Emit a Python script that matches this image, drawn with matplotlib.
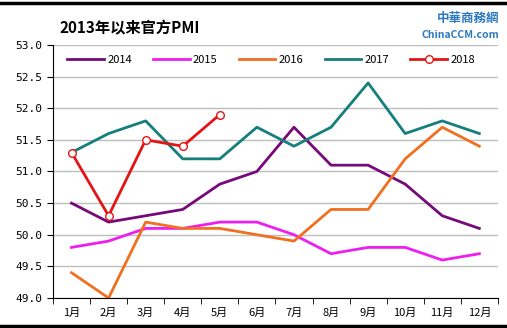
import matplotlib
matplotlib.use("Agg")
import matplotlib.pyplot as plt
from matplotlib.lines import Line2D

plt.rcParams['font.family'] = ['Noto Sans CJK SC', 'DejaVu Sans']

months = ['1月', '2月', '3月', '4月', '5月', '6月', '7月', '8月', '9月', '10月', '11月', '12月']
pmi_2014 = [50.5, 50.2, 50.3, 50.4, 50.8, 51.0, 51.7, 51.1, 51.1, 50.8, 50.3, 50.1]
pmi_2015 = [49.8, 49.9, 50.1, 50.1, 50.2, 50.2, 50.0, 49.7, 49.8, 49.8, 49.6, 49.7]
pmi_2016 = [49.4, 49.0, 50.2, 50.1, 50.1, 50.0, 49.9, 50.4, 50.4, 51.2, 51.7, 51.4]
pmi_2017 = [51.3, 51.6, 51.8, 51.2, 51.2, 51.7, 51.4, 51.7, 52.4, 51.6, 51.8, 51.6]
pmi_2018 = [51.3, 50.3, 51.5, 51.4, 51.9]
yticks = [49.0, 49.5, 50.0, 50.5, 51.0, 51.5, 52.0, 52.5, 53.0]

fig = plt.figure(figsize=(5.07, 3.28), dpi=100)
ax = fig.add_axes([0.1045, 0.0915, 0.8775, 0.7713])

x = list(range(len(months)))
ax.plot(x, pmi_2014, color='#760A78', lw=2, label='2014')
ax.plot(x, pmi_2015, color='#EE1EEE', lw=2, label='2015')
ax.plot(x, pmi_2016, color='#F07020', lw=2, label='2016')
ax.plot(x, pmi_2017, color='#147F7C', lw=2, label='2017')
ax.plot(x[:len(pmi_2018)], pmi_2018, color='#E41414', lw=2, marker='o',
        markersize=5.5, markerfacecolor='white', markeredgecolor='#E41414',
        markeredgewidth=1, label='2018')

ax.set_xlim(-0.5, 11.5)
ax.set_ylim(49.0, 53.0)
ax.set_yticks(yticks)
ax.set_yticklabels(['%.1f' % v for v in yticks], family='DejaVu Sans Mono', fontsize=8)
ax.set_xticks(x)
ax.set_xticklabels(months, fontsize=8)
ax.set_xticks([i - 0.5 for i in range(13)], minor=True)
ax.tick_params(axis='x', which='major', length=0, pad=7)
ax.tick_params(axis='x', which='minor', length=4, direction='out')
ax.tick_params(axis='y', length=4, direction='out')
ax.yaxis.grid(True, color='#BEBEBE', lw=1)
ax.set_axisbelow(True)
for s in ['top', 'right']:
    ax.spines[s].set_visible(False)

ax.legend(loc='upper center', bbox_to_anchor=(0.49, 1.0), ncol=5, frameon=False,
          fontsize=8, handlelength=3.3, columnspacing=1.9, handletextpad=0.3)

fig.text(0.118, 0.915, '2013年以来官方PMI', fontsize=11, fontweight='bold', va='center')
fig.text(0.985, 0.945, '中華商務網', fontsize=9, color='#2A78C0', fontweight='bold',
         va='center', ha='right')
fig.text(0.985, 0.892, 'ChinaCCM.com', fontsize=7.5, color='#2A78C0', fontweight='bold',
         va='center', ha='right')

# table-like frame lines
fig.add_artist(Line2D([0, 1], [0.992, 0.992], color='black', lw=2.5))
fig.add_artist(Line2D([0, 1], [0.005, 0.005], color='black', lw=2.5))

fig.savefig('out.png', dpi=100)
